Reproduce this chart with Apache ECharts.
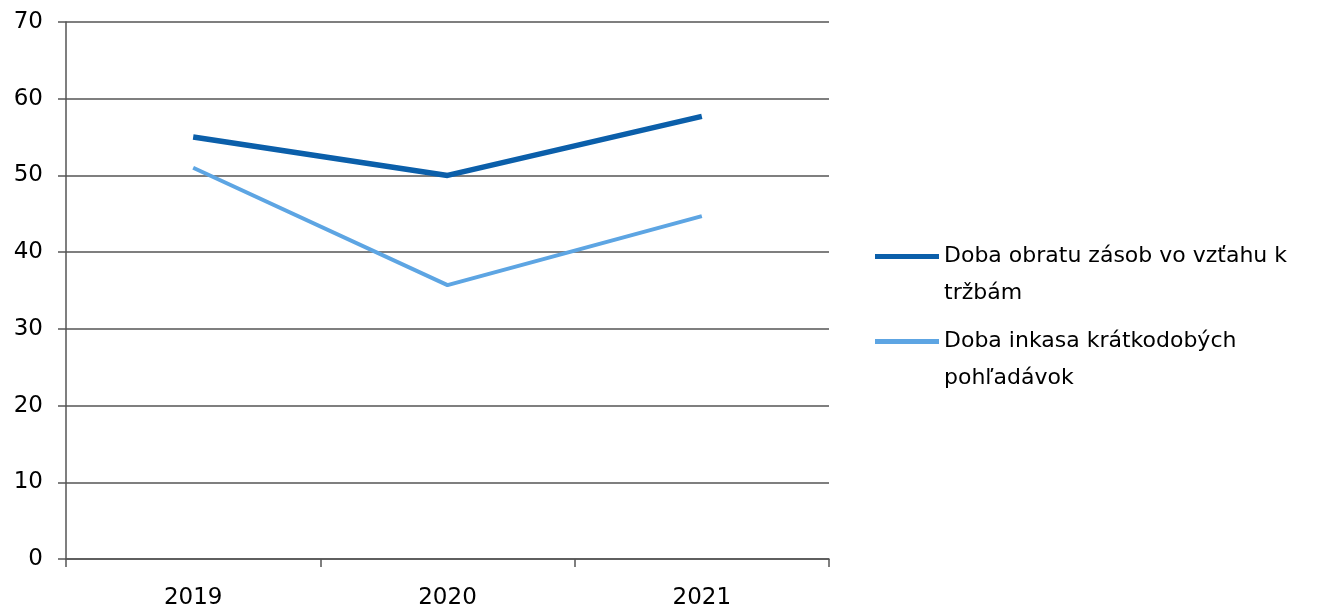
<!DOCTYPE html>
<html><head><meta charset="utf-8">
<script src="https://cdn.jsdelivr.net/npm/echarts@6/dist/echarts.min.js"></script>
<style>html,body{margin:0;padding:0;background:#fff}#c{width:1317px;height:611px}</style>
</head><body><div id="c"></div>
<script>
const categories = ['2019', '2020', '2021'];
const seriesNames = ['Doba obratu zásob vo vzťahu k tržbám', 'Doba inkasa krátkodobých pohľadávok'];
const legendLines = [['Doba obratu zásob vo vzťahu k', 'tržbám'], ['Doba inkasa krátkodobých', 'pohľadávok']];
const inventoryDays = [55.0, 50.0, 57.7];
const receivableDays = [51.0, 35.7, 44.7];

const chart = echarts.init(document.getElementById('c'));
const font = 'DejaVu Sans';
chart.setOption({
  animation: false,
  textStyle: { fontFamily: font },
  grid: { left: 66, right: 488, top: 22, bottom: 52, containLabel: false },
  legend: {
    orient: 'vertical', left: 870, top: 196,
    icon: 'rect', itemWidth: 64, itemHeight: 5, itemGap: -26,
    textStyle: { fontFamily: font, fontSize: 22, color: '#000', lineHeight: 37 },
    formatter: function (name) {
      const i = seriesNames.indexOf(name);
      return '\n' + legendLines[i][0] + '\n' + legendLines[i][1];
    },
    data: seriesNames
  },
  xAxis: {
    type: 'category', data: categories, boundaryGap: true,
    axisLine: { lineStyle: { color: '#555', width: 1.5 } },
    axisTick: { show: true, length: 8, lineStyle: { color: '#555', width: 1.5 } },
    axisLabel: { fontFamily: font, fontSize: 23, color: '#000', margin: 28 }
  },
  yAxis: {
    type: 'value', min: 0, max: 70, interval: 10,
    axisLine: { show: true, lineStyle: { color: '#555', width: 1.5 } },
    axisTick: { show: true, length: 8, lineStyle: { color: '#555', width: 1.5 } },
    splitLine: { lineStyle: { color: '#555', width: 1.5 } },
    axisLabel: { fontFamily: font, fontSize: 23, color: '#000', margin: 23 }
  },
  series: [
    { name: seriesNames[0], type: 'line', data: inventoryDays, symbol: 'none',
      lineStyle: { color: '#0B5FAA', width: 5.5 }, itemStyle: { color: '#0B5FAA' } },
    { name: seriesNames[1], type: 'line', data: receivableDays, symbol: 'none',
      lineStyle: { color: '#5DA5E3', width: 4 }, itemStyle: { color: '#5DA5E3' } }
  ]
});
</script></body></html>
